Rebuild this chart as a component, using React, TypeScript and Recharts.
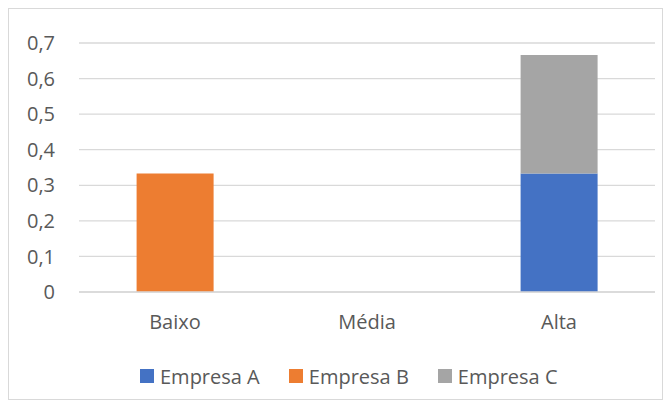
import { BarChart, Bar, XAxis, YAxis, CartesianGrid, Legend } from 'recharts'

const CATEGORIES = ['Baixo', 'Média', 'Alta']
const EMPRESA_A = [0, 0, 0.3333]
const EMPRESA_B = [0.3333, 0, 0]
const EMPRESA_C = [0, 0, 0.3333]
const Y_TICKS = [0, 0.1, 0.2, 0.3, 0.4, 0.5, 0.6, 0.7]

const SERIES = [
  { key: 'a', name: 'Empresa A', color: '#4472C4', values: EMPRESA_A },
  { key: 'b', name: 'Empresa B', color: '#ED7D31', values: EMPRESA_B },
  { key: 'c', name: 'Empresa C', color: '#A5A5A5', values: EMPRESA_C },
]

const data = CATEGORIES.map((cat, i) => {
  const row: Record<string, string | number> = { cat }
  for (const s of SERIES) row[s.key] = s.values[i]
  return row
})

const FONT = '"Open Sans", sans-serif'
const TEXT = '#595959'

function LegendContent() {
  return (
    <div style={{ height: 57, paddingLeft: 131, paddingTop: 24, boxSizing: 'border-box', display: 'flex', fontFamily: FONT, fontSize: 20, color: TEXT }}>
      {SERIES.map((s) => (
        <div key={s.key} style={{ display: 'flex', alignItems: 'center', marginRight: 29, height: 20 }}>
          <span style={{ width: 14, height: 14, background: s.color, display: 'inline-block', marginRight: 6 }} />
          <span>{s.name}</span>
        </div>
      ))}
    </div>
  )
}

export default function App() {
  return (
    <div style={{ width: 653, height: 390, border: '1px solid #d9d9d9' }}>
      <BarChart width={653} height={390} data={data} margin={{ top: 34, right: 7, left: 0, bottom: 0 }} barCategoryGap="30%">
        <CartesianGrid vertical={false} stroke="#d9d9d9" strokeWidth={1.3} />
        <XAxis dataKey="cat" height={50} tickLine={false} axisLine={{ stroke: '#d9d9d9', strokeWidth: 1.3 }} tickMargin={17}
          tick={{ fontSize: 20, fill: TEXT, fontFamily: FONT }} />
        <YAxis width={70} domain={[0, 0.7]} ticks={Y_TICKS} tickLine={false} axisLine={false} tickMargin={18}
          tickFormatter={(v: number) => String(v).replace('.', ',')}
          tick={{ fontSize: 20, fill: TEXT, fontFamily: FONT }} />
        <Legend verticalAlign="bottom" content={LegendContent} />
        {SERIES.map((s) => (
          <Bar key={s.key} dataKey={s.key} name={s.name} stackId="x" fill={s.color} isAnimationActive={false} />
        ))}
      </BarChart>
    </div>
  )
}
